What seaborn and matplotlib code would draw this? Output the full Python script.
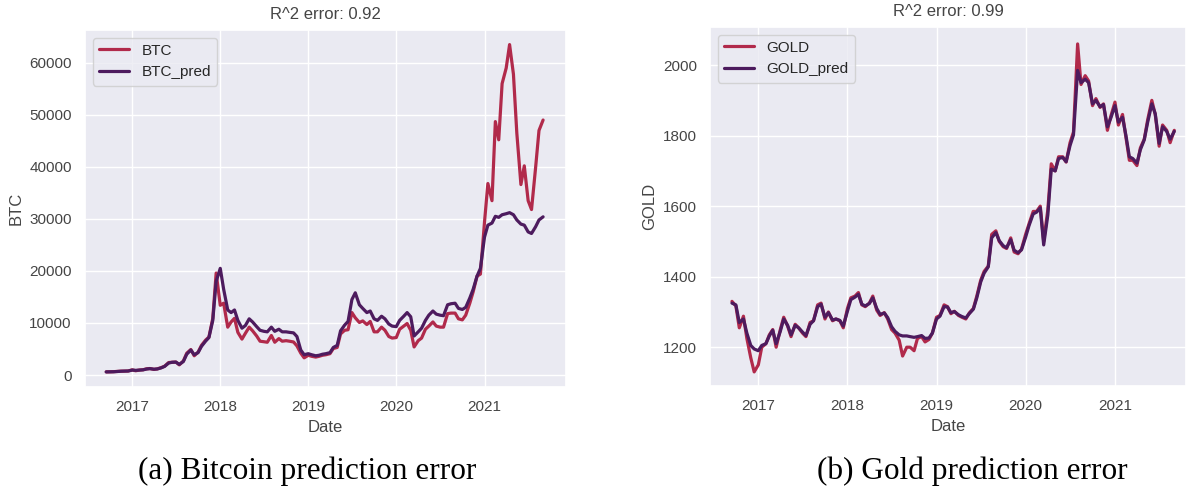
import numpy as np
import pandas as pd
import matplotlib
matplotlib.use("Agg")
import matplotlib.pyplot as plt
import matplotlib.dates as mdates
import seaborn as sns

# Semi-monthly observations, mid-Sept 2016 to early Sept 2021
dates = pd.date_range("2016-09-15", "2021-09-01", freq="SMS")

btc = [
    610, 615, 640, 700, 740, 750, 780,
    1000, 820, 970, 1010, 1190, 1250, 1080, 1180, 1420, 1700, 2400, 2450,
    2500, 1950, 2700, 4200, 4900, 3700, 4400, 5700, 6700, 7300, 10900, 19600,
    13400, 13800, 9200, 10200, 10900, 8200, 6900, 8000, 9200, 8500, 7500, 6500,
    6400, 6300, 7600, 6300, 7000, 6500, 6600, 6500, 6350, 5600, 4200, 3300,
    3800, 3600, 3450, 3600, 3800, 3900, 4100, 5100, 5300, 7900, 8600, 8700,
    12000, 11000, 10100, 10400, 9700, 10300, 8300, 8300, 9200, 8600, 7400, 7100,
    7200, 8800, 9400, 9900, 8600, 5400, 6600, 7100, 8800, 9400, 10200, 9400,
    9200, 9200, 11800, 11900, 11900, 10800, 10600, 11500, 13800, 16000, 19000, 19400,
    29400, 36800, 33500, 48700, 45200, 56000, 59000, 63500, 57800, 46500, 36600, 40200,
    33500, 31800, 39900, 47000, 49000,
]
btc_pred = [
    600, 620, 630, 680, 730, 760, 770,
    950, 900, 950, 1000, 1150, 1230, 1120, 1170, 1380, 1650, 2300, 2450,
    2480, 2050, 2600, 4000, 4800, 3900, 4300, 5500, 6500, 7200, 10500, 18000,
    20500, 16500, 12500, 12000, 12500, 10500, 9000, 9500, 10800, 10200, 9300, 8600,
    8400, 8300, 9200, 8400, 8800, 8300, 8300, 8200, 8100, 7400, 4800, 3900,
    4100, 3900, 3700, 3800, 4000, 4100, 4300, 5300, 5700, 8500, 9600, 10300,
    14500, 15800, 13500, 12800, 12000, 12300, 10800, 10500, 11300, 10800, 9800, 9400,
    9300, 10500, 11300, 12000, 11200, 7500, 8300, 9000, 10500, 11500, 12300, 11700,
    11500, 11400, 13500, 13700, 13800, 12800, 12600, 13000, 14800, 16500, 19000, 20500,
    26500, 28800, 29200, 30500, 30300, 30800, 31000, 31200, 30800, 29800, 29000, 28800,
    27500, 27200, 28500, 29800, 30400,
]
gold = [
    1330, 1317, 1255, 1288, 1225, 1170, 1130,
    1150, 1200, 1210, 1235, 1250, 1200, 1250, 1285, 1260, 1230, 1265, 1255,
    1240, 1230, 1270, 1275, 1320, 1325, 1280, 1300, 1275, 1280, 1275, 1255,
    1310, 1340, 1345, 1355, 1320, 1315, 1325, 1345, 1305, 1290, 1298, 1280,
    1250, 1240, 1220, 1175, 1200, 1200, 1190, 1225, 1230, 1215, 1222, 1240,
    1285, 1290, 1320, 1315, 1295, 1302, 1290, 1285, 1280, 1297, 1310, 1345,
    1390, 1415, 1430, 1520, 1530, 1500, 1485, 1480, 1510, 1470, 1465, 1478,
    1520, 1550, 1585, 1585, 1600, 1500, 1590, 1720, 1700, 1740, 1740, 1725,
    1780, 1810, 2060, 1945, 1970, 1955, 1885, 1905, 1880, 1890, 1815, 1855,
    1895, 1830, 1860, 1795, 1730, 1730, 1715, 1765, 1790, 1845, 1900, 1860,
    1770, 1830, 1815, 1780, 1815,
]
gold_pred = [
    1325, 1320, 1270, 1280, 1240, 1205, 1195,
    1190, 1205, 1210, 1232, 1248, 1210, 1245, 1280, 1262, 1235, 1262, 1255,
    1243, 1233, 1265, 1275, 1315, 1322, 1285, 1298, 1277, 1280, 1276, 1260,
    1302, 1335, 1342, 1350, 1322, 1317, 1324, 1340, 1310, 1293, 1297, 1284,
    1258, 1245, 1235, 1232, 1232, 1230, 1228, 1230, 1233, 1225, 1226, 1240,
    1280, 1288, 1315, 1314, 1298, 1301, 1292, 1287, 1283, 1295, 1308, 1340,
    1385, 1410, 1428, 1510, 1525, 1502, 1488, 1482, 1505, 1475, 1468, 1476,
    1512, 1545, 1578, 1583, 1595, 1490, 1575, 1705, 1700, 1735, 1738, 1726,
    1772, 1802, 1985, 1950, 1960, 1950, 1890, 1900, 1882, 1888, 1825, 1850,
    1885, 1838, 1852, 1800, 1740, 1735, 1722, 1760, 1788, 1838, 1890, 1862,
    1778, 1825, 1812, 1790, 1812,
]

titles = ["R^2 error: 0.92", "R^2 error: 0.99"]
captions = ["(a) Bitcoin prediction error", "(b) Gold prediction error"]

sns.set_theme(style="darkgrid", context="notebook")
plt.rcParams["font.family"] = ["Liberation Sans", "DejaVu Sans"]

fig = plt.figure(figsize=(11.89, 4.98), dpi=100)
W, H = 1189, 498


def px_axes(x0, y0, x1, y1):
    return fig.add_axes([x0 / W, 1 - y1 / H, (x1 - x0) / W, (y1 - y0) / H])


ax_btc = px_axes(85, 30, 566, 387)
ax_gold = px_axes(710, 27, 1186, 386)

colors = ["#b12a4b", "#4d1b5e"]
text_color = "0.27"


def draw(ax, name, actual, pred, title, xlim, ylim, yticks):
    df = pd.DataFrame({"Date": dates, name: actual, f"{name}_pred": pred})
    long = df.melt(id_vars="Date", var_name="series", value_name="value")
    sns.lineplot(data=long, x="Date", y="value", hue="series",
                 palette=colors, linewidth=2.3, ax=ax)
    ax.set_xlim(pd.Timestamp(xlim[0]), pd.Timestamp(xlim[1]))
    ax.set_ylim(*ylim)
    ax.set_yticks(yticks)
    ax.xaxis.set_major_locator(mdates.YearLocator())
    ax.xaxis.set_major_formatter(mdates.DateFormatter("%Y"))
    ax.set_xlabel("Date", color=text_color)
    ax.set_ylabel(name, color=text_color)
    ax.set_title(title, color=text_color, fontsize=12, pad=8)
    ax.tick_params(colors=text_color, labelsize=11)
    leg = ax.legend(loc="upper left", fontsize=11)
    leg.set_title(None)


draw(ax_btc, "BTC", btc, btc_pred, titles[0],
     ("2016-06-19", "2021-12-05"), (-2300, 66300),
     [0, 10000, 20000, 30000, 40000, 50000, 60000])
draw(ax_gold, "GOLD", gold, gold_pred, titles[1],
     ("2016-06-17", "2021-10-19"), (1090, 2108),
     [1200, 1400, 1600, 1800, 2000])

fig.text(307 / W, 1 - 471 / H, captions[0], ha="center", va="center",
         family="Liberation Serif", fontsize=22.5, color="black")
fig.text(972 / W, 1 - 471 / H, captions[1], ha="center", va="center",
         family="Liberation Serif", fontsize=22.5, color="black")

fig.savefig("out.png", dpi=100)
